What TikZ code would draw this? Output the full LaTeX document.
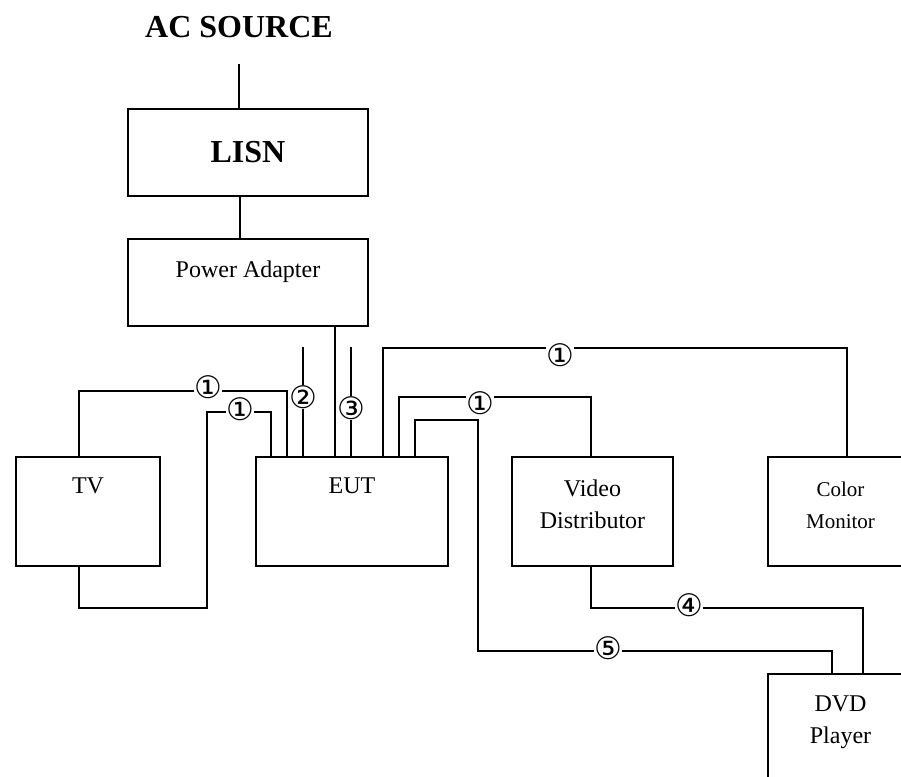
\documentclass[tikz,border=0pt]{standalone}
\usepackage{fontspec}
\setmainfont{Liberation Serif}
\newfontfamily\circfont{DejaVu Sans}
\usetikzlibrary{positioning}

\begin{document}
\begin{tikzpicture}[x=1pt,y=-1pt,line width=2pt,
  unit/.style={draw,inner sep=0pt,anchor=north west},
  caption/.style={anchor=north,inner sep=0pt,align=center,font=\fontsize{24}{31.5}\selectfont},
  smallcaption/.style={caption,font=\fontsize{21}{32}\selectfont},
  heading/.style={inner sep=0pt,font=\fontsize{32}{38}\selectfont\bfseries},
  num/.style={fill=white,inner xsep=0pt,inner ysep=0pt,font=\circfont\fontsize{31}{31}\selectfont}]

  \useasboundingbox (0,0) rectangle (901,776);
  \clip (0,0) rectangle (901,776);

  \node[heading] (ac) at (239,27) {AC SOURCE};
  \coordinate (acin) at (239,64);

  \node[unit,minimum width=240pt,minimum height=87pt,font=\fontsize{32}{38}\selectfont\bfseries] (lisn) at (127,108) {LISN};
  \node[unit,minimum width=240pt,minimum height=87pt,
    label={[caption,yshift=-22pt]north:Power Adapter}] (pa) at (127,238) {};

  \node[unit,minimum width=144pt,minimum height=109pt,
    label={[caption,yshift=-21pt]north:TV}] (tv) at (15,456) {};
  \node[unit,minimum width=192pt,minimum height=109pt,
    label={[caption,yshift=-21pt]north:EUT}] (eut) at (255,456) {};
  \node[unit,minimum width=161pt,minimum height=109pt,
    label={[caption,yshift=-23pt]north:Video\\Distributor}] (vd) at (511,456) {};
  \node[unit,minimum width=145pt,minimum height=109pt,
    label={[smallcaption,yshift=-25pt]north:Color\\Monitor}] (cm) at (767,456) {};
  \node[unit,minimum width=145pt,minimum height=109pt,
    label={[caption,yshift=-22pt]north:DVD\\Player}] (dvd) at (767,673) {};

  % cables
  \draw (tv.north -| 79,0) |- (287,391) -- (eut.north -| 287,0);
  \draw (tv.south -| 79,0) |- (207,608) |- (271,412) -- (eut.north -| 271,0);
  \draw (303,347) -- (eut.north -| 303,0);
  \draw (351,347) -- (eut.north -| 351,0);
  \draw (eut.north -| 383,0) |- (847,348) -- (cm.north -| 847,0);
  \draw (eut.north -| 399,0) |- (591,397) -- (vd.north -| 591,0);
  \draw (eut.north -| 415,0) |- (478,420) |- (832,651) -- (dvd.north -| 832,0);
  \draw (vd.south -| 591,0) |- (863,608) -- (dvd.north -| 863,0);

  % cable numbers
  \node[num] (tvtop) at (208,387) {①};
  \node[num] (tvbot) at (240,409) {①};
  \node[num] (two) at (303,397) {②};
  \node[num] (three) at (351,408) {③};
  \node[num] (cmnum) at (560,355) {①};
  \node[num] (vdnum) at (480,403) {①};
  \node[num] (four) at (689,605) {④};
  \node[num] (five) at (608,648) {⑤};

  % power
  \draw (acin) -- (lisn.north -| acin);
  \draw (lisn.south -| 240,0) -- (pa.north -| 240,0);
  \draw (pa.south -| 335,0) -- (eut.north -| 335,0);

\end{tikzpicture}
\end{document}
